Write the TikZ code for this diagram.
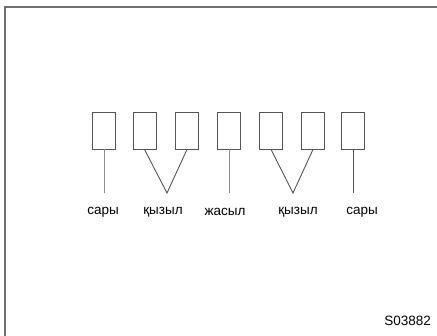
\documentclass[tikz,border=0pt]{standalone}
\usepackage{fontspec}
\setmainfont{Liberation Sans}
\usetikzlibrary{positioning}
\definecolor{framegray}{HTML}{707070}
\definecolor{wiregray}{HTML}{8C8C8C}
\definecolor{darkwire}{HTML}{555555}

\begin{document}
\begin{tikzpicture}[x=1pt, y=-1pt,
  cell/.style={draw=darkwire, line width=0.9pt, minimum width=23pt, minimum height=37pt, inner sep=0pt},
  wire/.style={draw=wiregray, line width=0.9pt},
  lbl/.style={font=\fontsize{13.5}{16}\selectfont, text=black, inner sep=0pt}
]
  \useasboundingbox (0,0) rectangle (437,336);
  \draw[framegray, line width=2pt] (5,336) -- (5,7) -- (437,7);

  % connector cells
  \foreach \i/\x in {1/104, 2/144.5, 3/187, 4/229, 5/271, 6/313, 7/353}
    \node[cell] (b\i) at (\x,130.5) {};

  \coordinate (v1) at (167,193);
  \coordinate (v2) at (293,193);

  \node[lbl] (l1) at (103,212) {сары};
  \node[lbl] (l2) at (163,212) {қызыл};
  \node[lbl] (l3) at (225,212) {жасыл};
  \node[lbl] (l4) at (298,212) {қызыл};
  \node[lbl] (l5) at (362,212) {сары};

  \draw[wire] (b1.south) -- (b1.south |- v1);
  \draw[wire, darkwire] (b2.south) -- (v1) -- (b3.south);
  \draw[wire] (b4.south) -- (b4.south |- v1);
  \draw[wire, darkwire] (b5.south) -- (v2) -- (b6.south);
  \draw[wire, darkwire] (b7.south) -- (b7.south |- v2);

  \node[lbl, anchor=east] (code) at (431,321) {S03882};
\end{tikzpicture}
\end{document}
